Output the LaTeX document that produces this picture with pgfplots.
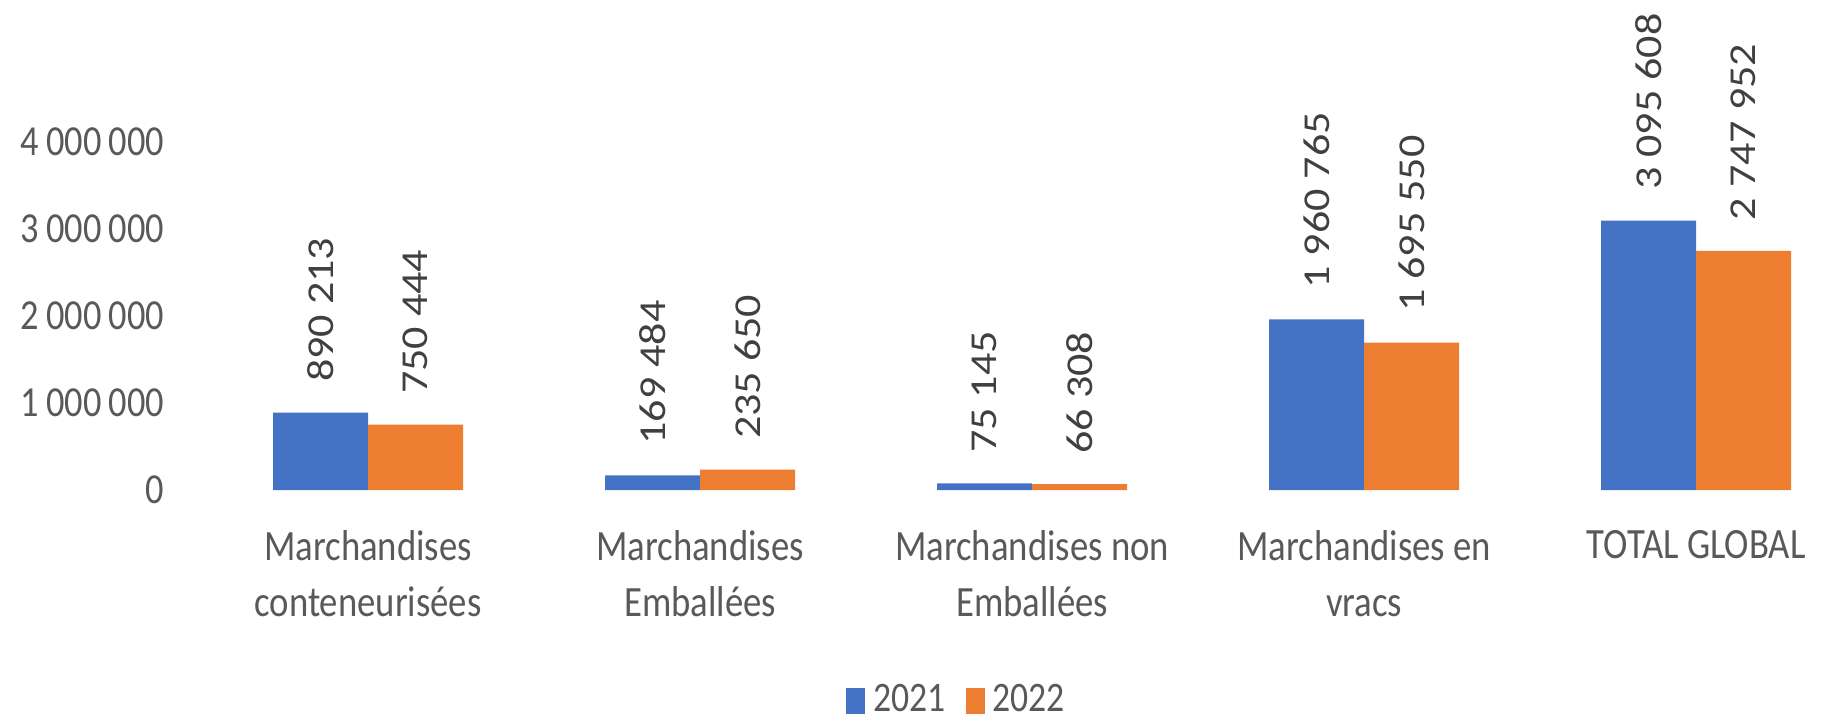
\documentclass[border=0pt]{standalone}
\usepackage{fontspec}
\setmainfont{Carlito}[FakeStretch=0.85]
\newfontfamily\valfont{Carlito}[FakeStretch=1.16]
\usepackage{pgfplots}
\pgfplotsset{compat=1.18}
\definecolor{bar21}{HTML}{4472C4}
\definecolor{bar22}{HTML}{ED7D31}
\definecolor{axtext}{HTML}{595959}
\definecolor{valtext}{HTML}{404040}
\pgfplotsset{sqlegend/.style={legend image code/.code={\fill[##1] (0pt,-3.3pt) rectangle (4.75pt,3.3pt);}}}

\begin{document}
\begin{tikzpicture}
\begin{axis}[
    name=ax,
    scale only axis,
    width=406.75pt, height=87pt,
    xmin=-0.5, xmax=4.4,
    ymin=0, ymax=4000000,
    scaled y ticks=false,
    ybar=0pt, bar width=23.75pt,
    axis line style={draw=none},
    major tick length=0pt,
    clip=false,
    xtick={0,1,2,3,4},
    xticklabels={{Marchandises\\conteneurisées},{Marchandises\\Emballées},{Marchandises non\\Emballées},{Marchandises en\\vracs},{TOTAL GLOBAL}},
    xticklabel style={align=center, text=axtext, font=\fontsize{10.8}{14}\selectfont, inner ysep=0pt, yshift=-9.9pt},
    ytick={0,1000000,2000000,3000000,4000000},
    yticklabels={0,1\,000\,000,2\,000\,000,3\,000\,000,4\,000\,000},
    yticklabel style={text=axtext, font=\fontsize{10.7}{12}\selectfont, inner xsep=0pt, xshift=-9.25pt},
    point meta=explicit symbolic,
    nodes near coords,
    every node near coord/.append style={rotate=90, anchor=west, inner xsep=7.5pt, inner ysep=0pt,
        font=\valfont\fontsize{9.5}{11}\selectfont, text=valtext},
    legend columns=2,
    legend style={draw=none, at={(0.4656,-0.606)}, anchor=center,
        font=\fontsize{10.5}{12}\selectfont, text=axtext,
        /tikz/every even column/.append style={column sep=3pt}},
]
\addplot[fill=bar21, draw=none, sqlegend]
    coordinates {(0,890213) [890\ 213] (1,169484) [169\ 484] (2,75145) [75\ 145]
                 (3,1960765) [1\ 960\ 765] (4,3095608) [3\ 095\ 608]};
\addlegendentry{2021}
\addplot[fill=bar22, draw=none, sqlegend]
    coordinates {(0,750444) [750\ 444] (1,235650) [235\ 650] (2,66308) [66\ 308]
                 (3,1695550) [1\ 695\ 550] (4,2747952) [2\ 747\ 952]};
\addlegendentry{2022}
\end{axis}
\pgfresetboundingbox
\path ([shift={(-50.5pt,-57.5pt)}]ax.south west) rectangle ([shift={(0pt,35.5pt)}]ax.north east);
\end{tikzpicture}
\end{document}
